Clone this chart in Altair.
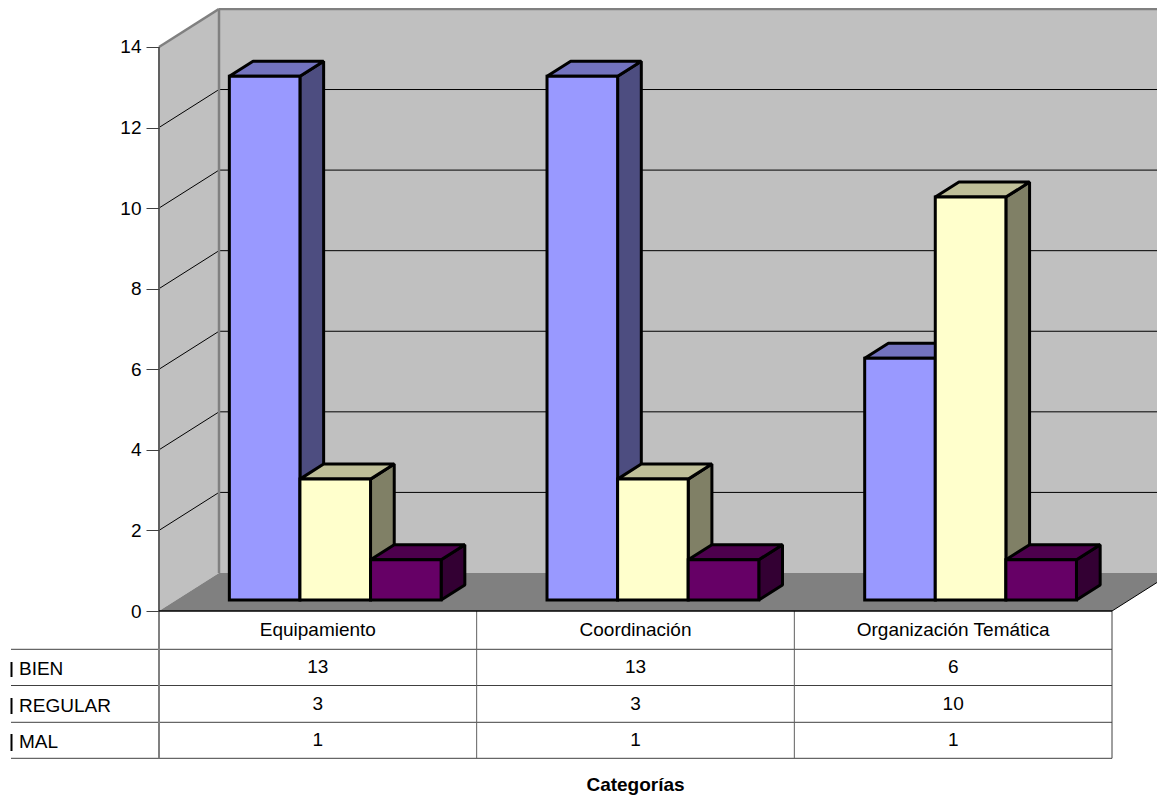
import altair as alt
import pandas as pd

categories = ["Equipamiento", "Coordinación", "Organización Temática"]
series_names = ["BIEN", "REGULAR", "MAL"]
bien = [13, 13, 6]
regular = [3, 3, 10]
mal = [1, 1, 1]
y_ticks = [0, 2, 4, 6, 8, 10, 12, 14]
x_title = "Categorías"

front_colors = ["#9999FF", "#FFFFCC", "#660066"]
side_colors = ["#4D4D80", "#808066", "#330033"]
top_colors = ["#7373BF", "#BFBF99", "#4D004D"]

W, H = 1149, 788
PX_X = 317.67     # px per category
PX_Y = 40.29      # px per value unit
X0, Y0 = 159, 611 # image position of the front-left origin
DX, DY = 60 / PX_X, 38 / PX_Y   # full chart depth in data units
BW = 1 / 4.5
F, B = 0.29, 0.685  # front and back depth of each bar
FONT_SIZE = 19


def ux(px):
    return (px - X0) / PX_X


def uy(px):
    return (Y0 - px) / PX_Y


xs = alt.Scale(domain=[ux(8), ux(8 + W)], range=[0, W], nice=False, zero=False)
ys = alt.Scale(domain=[uy(8 + H), uy(8)], range=[H, 0], nice=False, zero=False)
y_axis = alt.Axis(
    values=y_ticks, title=None, grid=False, domain=False, offset=-(X0 - 8),
    tickSize=13, tickColor="#404040", tickWidth=1, labelFontSize=FONT_SIZE,
    labelFont="Liberation Sans", labelColor="#000000", labelPadding=5,
    labelFlush=False, labelOverlap=False, zindex=1,
)
X = lambda f="x": alt.X(f"{f}:Q", scale=xs, axis=None)
Y = lambda f="y": alt.Y(f"{f}:Q", scale=ys, axis=y_axis)
X2 = lambda f="x2": alt.X2(f"{f}")
Y2 = lambda f="y2": alt.Y2(f"{f}")


def rules(rows, color, width):
    return alt.Chart(pd.DataFrame(rows, columns=["x", "x2", "y", "y2"])).mark_rule(
        color=color, strokeWidth=width, clip=True
    ).encode(x=X(), x2=X2(), y=Y(), y2=Y2())


def rect(x, x2, y, y2, fill, **kw):
    return alt.Chart(pd.DataFrame([dict(x=x, x2=x2, y=y, y2=y2)])).mark_rect(
        fill=fill, clip=True, **kw
    ).encode(x=X(), x2=X2(), y=Y(), y2=Y2())


def side(x, x2, bottom, topv, dx, dy, fill, **kw):
    # parallelogram with vertical edges
    df = pd.DataFrame({"x": [x, x2], "y": [topv, topv + dy], "y2": [bottom, bottom + dy]})
    return alt.Chart(df).mark_area(fill=fill, clip=True, **kw).encode(x=X(), y=Y(), y2=Y2())


def flat(xa, xb, yv, dx, dy, fill, **kw):
    # parallelogram with horizontal edges
    df = pd.DataFrame({"y": [yv, yv + dy], "x": [xa, xa + dx], "x2": [xb, xb + dx]})
    return alt.Chart(df).mark_area(fill=fill, orient="horizontal", clip=True, **kw).encode(
        y=Y(), x=X(), x2=X2()
    )


top_val = max(y_ticks)
n = len(categories)
layers = []

# Walls and floor
layers.append(side(0, DX, 0, top_val, DX, DY, "#C0C0C0"))
layers.append(rect(DX, n + DX, DY, top_val + DY, "#C0C0C0"))
layers.append(flat(0, n, 0, DX, DY, "#808080"))

# Gridlines
grid_vals = [v for v in y_ticks if v > 0 and v < top_val]
layers.append(rules([(DX, n + DX, v + DY, v + DY) for v in grid_vals], "#000000", 1))
layers.append(rules([(0, DX, v, v + DY) for v in grid_vals], "#000000", 1))

# Wall edges
layers.append(rules([(DX, DX, DY, top_val + DY), (DX, n + DX, top_val + DY, top_val + DY),
                     (0, DX, top_val, top_val + DY)], "#808080", 2.5))
layers.append(rules([(0, 0, 0, top_val)], "#606060", 2))
layers.append(rules([(n, n + DX, 0, DY)], "#000000", 1))

# Bars
values = [bien, regular, mal]
edge = dict(stroke="#000000", strokeWidth=3, strokeJoin="bevel")
for c in range(n):
    for s in range(3):
        v = values[s][c]
        xl = c + 0.75 * BW + s * BW + F * DX
        xr = xl + BW
        f0 = F * DY
        dxb, dyb = (B - F) * DX, (B - F) * DY
        layers.append(side(xr, xr + dxb, f0, v + f0, dxb, dyb, side_colors[s], **edge))
        layers.append(flat(xl, xr, v + f0, dxb, dyb, top_colors[s], **edge))
        layers.append(rect(xl, xr, f0, v + f0, front_colors[s], stroke="#000000", strokeWidth=3))

# Data table grid
rows_px = [649.3, 685.5, 722.3, 758.3]
layers.append(rules([(ux(11), n, uy(p), uy(p)) for p in rows_px], "#404040", 1))
layers.append(rules([(i, i, uy(rows_px[-1]), 0) for i in (1, 2)], "#606060", 1))
layers.append(rules([(n, n, uy(rows_px[-1]), 0)], "#404040", 1))
layers.append(rules([(0, 0, uy(rows_px[-1]), 0)], "#808080", 2))
layers.append(rules([(0, n, 0, 0)], "#000000", 1.5))

# Truncated legend keys
key_px = [(662, 677), (698, 714), (734, 751)]
layers.append(rules([(ux(11.5), ux(11.5), uy(a), uy(b)) for a, b in key_px], "#000000", 2))

# Table text
text_rows = []
for c, name in enumerate(categories):
    text_rows.append(dict(x=c + 0.5, y=uy(630), t=name))
    for s, py in enumerate([667, 703.5, 739.5]):
        text_rows.append(dict(x=c + 0.5, y=uy(py), t=str(values[s][c])))
text_font = dict(font="Liberation Sans", fontSize=FONT_SIZE, color="#000000", baseline="middle")
layers.append(
    alt.Chart(pd.DataFrame(text_rows)).mark_text(align="center", **text_font).encode(
        x=X(), y=Y(), text="t:N"
    )
)
label_rows = [dict(x=ux(19), y=uy(py), t=nm) for nm, py in zip(series_names, [669, 705.5, 741.5])]
layers.append(
    alt.Chart(pd.DataFrame(label_rows)).mark_text(align="left", **text_font).encode(
        x=X(), y=Y(), text="t:N"
    )
)
layers.append(
    alt.Chart(pd.DataFrame([dict(x=1.5, y=uy(785), t=x_title)])).mark_text(
        align="center", fontWeight="bold", **text_font
    ).encode(x=X(), y=Y(), text="t:N")
)

chart = alt.layer(*layers).properties(
    width=W, height=H, padding=0, background="#FFFFFF",
    autosize=alt.AutoSizeParams(type="none"),
).configure_view(stroke=None)

chart.save("out.html", embed_options={"renderer": "svg", "actions": False})
